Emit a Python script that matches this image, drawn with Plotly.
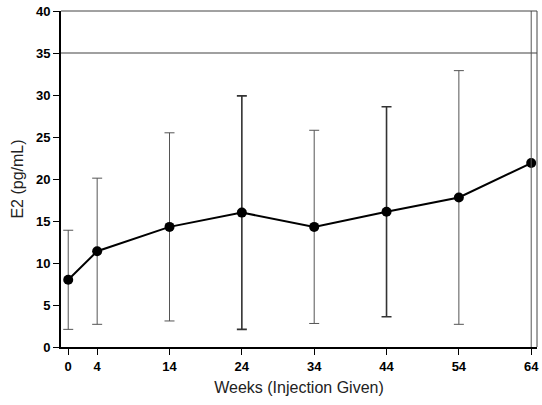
import plotly.graph_objects as go

weeks = [0, 4, 14, 24, 34, 44, 54, 64]
mean_e2 = [8.0, 11.4, 14.3, 16.0, 14.3, 16.1, 17.8, 21.9]
upper_e2 = [13.9, 20.1, 25.5, 29.9, 25.8, 28.6, 32.9, None]
lower_e2 = [2.1, 2.7, 3.1, 2.1, 2.8, 3.6, 2.7, None]
reference_level = 35
y_ticks = [0, 5, 10, 15, 20, 25, 30, 35, 40]

thick_idx = [3, 5]

def err_trace(idx, width, color):
    xs = [weeks[i] for i in idx]
    ys = [mean_e2[i] for i in idx]
    up = [upper_e2[i] - mean_e2[i] for i in idx]
    dn = [mean_e2[i] - lower_e2[i] for i in idx]
    return go.Scatter(
        x=xs, y=ys, mode="markers", marker=dict(size=1, opacity=0),
        error_y=dict(type="data", symmetric=False, array=up, arrayminus=dn,
                     color=color, thickness=width, width=5),
        showlegend=False, hoverinfo="skip")

thin_idx = [i for i in range(len(weeks)) if upper_e2[i] is not None and i not in thick_idx]

fig = go.Figure()
fig.add_trace(err_trace(thin_idx, 1, "#555555"))
fig.add_trace(err_trace(thick_idx, 1.6, "#333333"))
fig.add_trace(go.Scatter(
    x=weeks, y=mean_e2, mode="lines+markers",
    line=dict(color="black", width=2),
    marker=dict(color="black", size=10),
    showlegend=False))

fig.add_shape(type="line", xref="paper", yref="y", x0=0, x1=1,
              y0=reference_level, y1=reference_level,
              line=dict(color="#a0a0a0", width=2))
fig.add_shape(type="line", xref="x", yref="y", x0=weeks[-1], x1=weeks[-1],
              y0=0, y1=40, line=dict(color="#555555", width=1))
fig.add_shape(type="line", xref="paper", yref="paper", x0=0, x1=1, y0=1, y1=1,
              line=dict(color="#444444", width=1))
fig.add_shape(type="line", xref="paper", yref="paper", x0=1, x1=1, y0=0, y1=1,
              line=dict(color="#444444", width=1))

tick_font = dict(size=13, family="Liberation Sans, Arial", color="black", weight="bold")
title_font = dict(size=16, family="Liberation Sans, Arial", color="#222222")

fig.update_layout(
    width=542, height=405,
    margin=dict(l=61, r=3, t=11, b=58),
    plot_bgcolor="white", paper_bgcolor="white",
    font=dict(family="Liberation Sans, Arial", color="black"),
    xaxis=dict(range=[-1, 64.8], tickvals=weeks, ticktext=[str(w) for w in weeks],
               showgrid=False, zeroline=False, showline=True, linecolor="black",
               linewidth=2, ticks="outside", ticklen=6, tickwidth=1,
               tickcolor="black", tickfont=tick_font,
               title=dict(text="Weeks (Injection Given)", font=title_font,
                          standoff=9)),
    yaxis=dict(range=[0, 40], tickvals=y_ticks,
               showgrid=False, zeroline=False, showline=True, linecolor="black",
               linewidth=2, ticks="outside", ticklen=6, tickwidth=1,
               tickcolor="black", tickfont=tick_font,
               title=dict(text="E2 (pg/mL)", font=title_font, standoff=8)),
)

fig.write_html("out.html")
